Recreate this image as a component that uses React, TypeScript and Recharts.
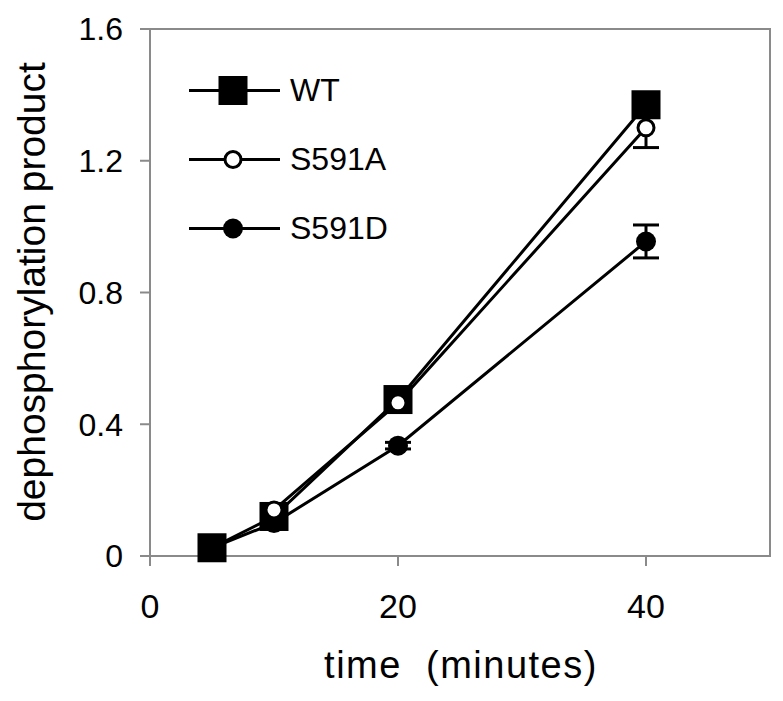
import { LineChart, Line, XAxis, YAxis, ErrorBar, ReferenceArea, Legend, Label } from 'recharts'

const times = [5, 10, 20, 40]
const wt = [0.025, 0.12, 0.475, 1.37]
const s591a = [null, 0.14, 0.465, 1.3]
const s591d = [0.025, 0.1, 0.335, 0.955]
const s591aErr = [0, 0, 0, 0.06]
const s591dErr = [0, 0, 0.01, 0.05]
const seriesNames = ['WT', 'S591A', 'S591D']
const xTicks = [0, 20, 40]
const yTicks = [0, 0.4, 0.8, 1.2, 1.6]

const data = times.map((t, i) => ({
  time: t,
  wt: wt[i],
  s591a: s591a[i],
  s591d: s591d[i],
  aErr: s591aErr[i],
  dErr: s591dErr[i],
}))

const FONT = '"Liberation Sans", Arial, sans-serif'
const AXIS = '#8a8a8a'

const SquareDot = (p: any) => (
  <rect key={`sq-${p.index}`} x={p.cx - 14.5} y={p.cy - 14.5} width={29} height={29} fill="#000" />
)
const OpenDot = (p: any) =>
  p.value == null || p.cy == null ? (
    <g key={`oc-${p.index}`} />
  ) : (
    <circle key={`oc-${p.index}`} cx={p.cx} cy={p.cy} r={8} fill="#fff" stroke="#000" strokeWidth={3} />
  )
const FilledDot = (p: any) => (
  <circle key={`fc-${p.index}`} cx={p.cx} cy={p.cy} r={10} fill="#000" />
)

const markers = [
  (x: number, y: number) => <rect x={x - 14.5} y={y - 14.5} width={29} height={29} fill="#000" />,
  (x: number, y: number) => <circle cx={x} cy={y} r={8} fill="#fff" stroke="#000" strokeWidth={3} />,
  (x: number, y: number) => <circle cx={x} cy={y} r={10} fill="#000" />,
]

const LegendBox = () => (
  <div style={{ fontFamily: FONT }}>
    {seriesNames.map((name, i) => (
      <div key={name} style={{ display: 'flex', alignItems: 'center', height: 69 }}>
        <svg width={91} height={69}>
          <line x1={0} x2={91} y1={34.5} y2={34.5} stroke="#000" strokeWidth={3} />
          {markers[i](44, 34.5)}
        </svg>
        <span style={{ marginLeft: 10, fontSize: 32, color: '#000' }}>{name}</span>
      </div>
    ))}
  </div>
)

export default function App() {
  return (
    <div style={{ position: 'absolute', left: 0, top: 0, background: '#fff' }}>
      <LineChart
        width={783}
        height={701}
        data={data}
        margin={{ top: 29, right: 13, bottom: 45, left: 0 }}
      >
        <ReferenceArea x1={0} x2={50} y1={0} y2={1.6} fill="none" stroke={AXIS} strokeWidth={2} />
        <XAxis
          dataKey="time"
          type="number"
          domain={[0, 50]}
          ticks={xTicks}
          height={100}
          tickSize={10}
          tickMargin={28}
          stroke={AXIS}
          strokeWidth={2}
          tick={{ fill: '#000', fontSize: 34, fontFamily: FONT }}
        >
          <Label
            content={() => (
              <text x={461} y={665} textAnchor="middle" dominantBaseline="central"
                fontSize={38} fontFamily={FONT} letterSpacing={1.5} fill="#000"
                style={{ whiteSpace: 'pre' }}>
                {'time  (minutes)'}
              </text>
            )}
          />
        </XAxis>
        <YAxis
          type="number"
          domain={[0, 1.6]}
          ticks={yTicks}
          width={150}
          tickSize={10}
          tickMargin={17}
          stroke={AXIS}
          strokeWidth={2}
          tick={{ fill: '#000', fontSize: 32, fontFamily: FONT }}
          tickFormatter={(v) => String(v)}
        >
          <Label
            content={() => (
              <text x={31} y={292} transform="rotate(-90 31 292)" textAnchor="middle" dominantBaseline="central"
                fontSize={39} fontFamily={FONT} fill="#000">
                dephosphorylation product
              </text>
            )}
          />
        </YAxis>
        <Legend
          layout="vertical"
          align="center"
          verticalAlign="middle"
          content={<LegendBox />}
          wrapperStyle={{ left: 189, top: 56, width: 200 }}
        />
        <Line dataKey="s591d" stroke="#000" strokeWidth={3} dot={FilledDot} activeDot={false} isAnimationActive={false}>
          <ErrorBar dataKey="dErr" width={13} stroke="#000" strokeWidth={3} direction="y" />
        </Line>
        <Line dataKey="wt" stroke="#000" strokeWidth={3} dot={SquareDot} activeDot={false} isAnimationActive={false} />
        <Line dataKey="s591a" stroke="#000" strokeWidth={3} dot={OpenDot} activeDot={false} isAnimationActive={false}>
          <ErrorBar dataKey="aErr" width={13} stroke="#000" strokeWidth={3} direction="y" />
        </Line>
      </LineChart>
    </div>
  )
}
